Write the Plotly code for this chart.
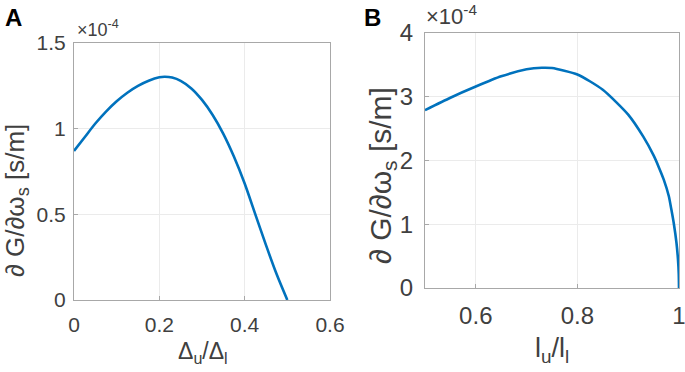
import plotly.graph_objects as go

W, H = 685, 372

# Panel A: dG/dω_s (×1e-4 s/m) vs Δu/Δl
a_x = [0, 0.025, 0.05, 0.075, 0.1, 0.125, 0.15, 0.175, 0.2, 0.213, 0.23, 0.25,
       0.275, 0.3, 0.325, 0.35, 0.375, 0.4, 0.425, 0.45, 0.475, 0.5]
a_y = [0.87, 0.95, 1.03, 1.10, 1.16, 1.21, 1.25, 1.28, 1.30, 1.303, 1.298, 1.279,
       1.235, 1.168, 1.08, 0.97, 0.836, 0.68, 0.50, 0.32, 0.15, 0.0]
a_xticks = [0, 0.2, 0.4, 0.6]
a_yticks = [0, 0.5, 1, 1.5]
a_yticklabels = ["0", "0.5", "1", "1.5"]

# Panel B: dG/dω_s (×1e-4 s/m) vs lu/ll
b_x = [0.5, 0.55, 0.6, 0.65, 0.7, 0.73, 0.75, 0.8, 0.85, 0.9, 0.93, 0.95, 0.96,
       0.97, 0.98, 0.985, 0.99, 0.995, 0.998, 0.9995, 1.0]
b_y = [2.79, 2.985, 3.16, 3.32, 3.43, 3.455, 3.45, 3.35, 3.11, 2.72, 2.37, 2.08, 1.90,
       1.70, 1.44, 1.23, 1.0, 0.71, 0.45, 0.22, 0.0]
b_xticks = [0.6, 0.8, 1]
b_xticklabels = ["0.6", "0.8", "1"]
b_yticks = [0, 1, 2, 3, 4]

LINE = "#0072BD"
AX = "#a8a8a8"
GRID = "#ebebeb"
TXT = "#404040"
FONT = "Liberation Sans, Arial, sans-serif"


def px(x):
    return x / W


def py(y):
    return 1 - y / H


fig = go.Figure()
fig.add_trace(go.Scatter(x=a_x, y=a_y, mode="lines", xaxis="x", yaxis="y",
                         line=dict(color=LINE, width=2.6, shape="spline", smoothing=0.8),
                         showlegend=False, hoverinfo="skip"))
fig.add_trace(go.Scatter(x=b_x, y=b_y, mode="lines", xaxis="x2", yaxis="y2",
                         line=dict(color=LINE, width=2.6, shape="spline", smoothing=0.6),
                         showlegend=False, hoverinfo="skip"))

common = dict(showline=True, linecolor=AX, linewidth=1, mirror=True,
              showgrid=True, gridcolor=GRID, gridwidth=1, zeroline=False,
              ticks="inside", ticklen=4, tickcolor=AX, tickwidth=1,
              automargin=False, ticklabeloverflow="allow")

fig.update_layout(
    width=W, height=H,
    margin=dict(l=0, r=0, t=0, b=0, autoexpand=False),
    paper_bgcolor="white", plot_bgcolor="white",
    font=dict(family=FONT, color=TXT),
    xaxis=dict(domain=[px(74), px(330)], range=[0, 0.6], anchor="y",
               tickvals=a_xticks, ticktext=[str(v) for v in a_xticks],
               tickfont=dict(size=21, color=TXT), ticklabelstandoff=6, **common),
    yaxis=dict(domain=[py(300), py(43)], range=[0, 1.5], anchor="x",
               tickvals=a_yticks, ticktext=a_yticklabels,
               tickfont=dict(size=21, color=TXT), ticklabelstandoff=3, **common),
    xaxis2=dict(domain=[px(425), px(679)], range=[0.5, 1.0], anchor="y2",
                tickvals=b_xticks, ticktext=b_xticklabels,
                tickfont=dict(size=24, color=TXT), ticklabelstandoff=6, **common),
    yaxis2=dict(domain=[py(288), py(33)], range=[0, 4], anchor="x2",
                tickvals=b_yticks, ticktext=[str(v) for v in b_yticks],
                tickfont=dict(size=24, color=TXT), ticklabelstandoff=6, **common),
)

ann = []
# panel letters
ann.append(dict(text="<b>A</b>", x=px(3), y=py(2), xanchor="left", yanchor="top",
                font=dict(size=24, color="black", family=FONT)))
ann.append(dict(text="<b>B</b>", x=px(362), y=py(2), xanchor="left", yanchor="top",
                font=dict(size=24, color="black", family=FONT)))
# exponent labels
ann.append(dict(text="×10<sup>-4</sup>", x=px(75), y=py(42), xanchor="left", yanchor="bottom",
                font=dict(size=18, color=TXT, family=FONT)))
ann.append(dict(text="×10<sup>-4</sup>", x=px(424), y=py(31), xanchor="left", yanchor="bottom",
                font=dict(size=22, color=TXT, family=FONT)))
# y titles
ann.append(dict(text="∂ G/∂ω<sub>s</sub> [s/m]", x=px(16), y=py(201), xanchor="center",
                yanchor="middle", textangle=-90,
                font=dict(size=26, color=TXT, family=FONT)))
ann.append(dict(text="∂ G/∂ω<sub>s</sub> [s/m]", x=px(382), y=py(176), xanchor="center",
                yanchor="middle", textangle=-90,
                font=dict(size=30, color=TXT, family=FONT)))
# x titles
ann.append(dict(text="Δ<sub>u</sub>/Δ<sub>l</sub>", x=px(203), y=py(352), xanchor="center",
                yanchor="middle", font=dict(size=23, color=TXT, family=FONT)))
ann.append(dict(text="l<sub>u</sub>/l<sub>l</sub>", x=px(552), y=py(350), xanchor="center",
                yanchor="middle", font=dict(size=27, color=TXT, family=FONT)))

for a in ann:
    a.update(xref="paper", yref="paper", showarrow=False)
fig.update_layout(annotations=ann)

fig.write_html("out.html", config={"displayModeBar": False},
               post_script="document.body.style.margin='0';document.body.style.overflow='hidden';")
